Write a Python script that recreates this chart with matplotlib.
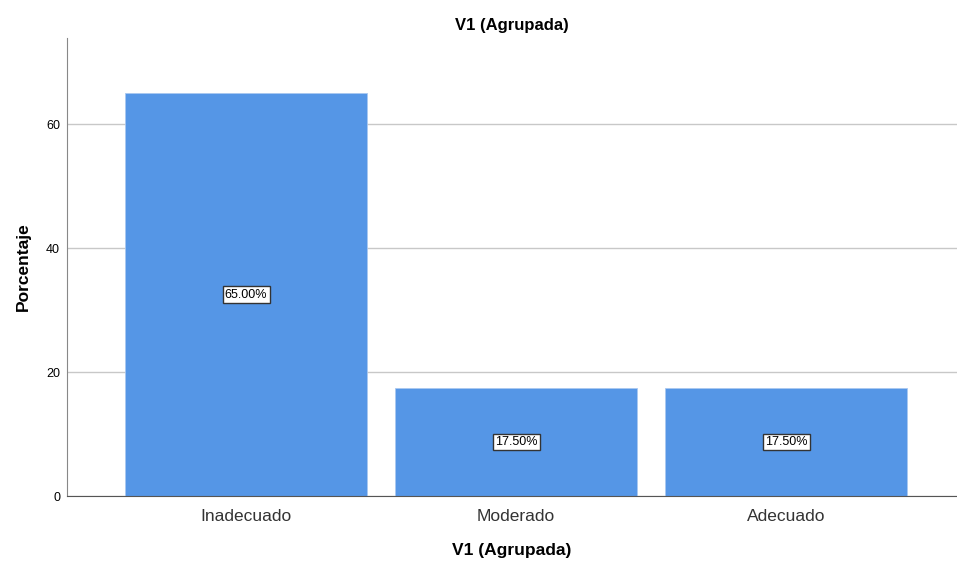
import numpy as np
import matplotlib.pyplot as plt

plt.rcParams['font.family'] = ['Liberation Sans', 'DejaVu Sans']

categorias = ["Inadecuado", "Moderado", "Adecuado"]
porcentajes = [65.0, 17.5, 17.5]

fig = plt.figure(figsize=(9.57, 5.62), dpi=100)
ax = fig.add_axes([0.07, 0.1174, 0.93, 0.815])

x = np.arange(len(categorias))
ax.bar(x, porcentajes, width=0.896, color="#5596e6", edgecolor="#a9c8f0", linewidth=0.6, zorder=2)

for xi, v in zip(x, porcentajes):
    ax.text(xi, v / 2, f"{v:.2f}%", ha="center", va="center", fontsize=9, color="black", zorder=3,
            bbox=dict(boxstyle="square,pad=0.18", facecolor="white", edgecolor="#333333", linewidth=1.0))

ax.set_xlim(-0.663, 2.633)
ax.set_ylim(0, 73.9)
ax.set_yticks([0, 20, 40, 60])
ax.set_xticks(x)
ax.set_xticklabels(categorias, fontsize=12.5, color="#333333")
ax.tick_params(axis="y", length=0, labelsize=9, pad=5)
ax.tick_params(axis="x", length=0, pad=9)

ax.grid(axis="y", color="#c8c8c8", linewidth=1.0, zorder=0)
ax.set_axisbelow(True)

for s in ["top", "right"]:
    ax.spines[s].set_visible(False)
ax.spines["left"].set_color("#888888")
ax.spines["bottom"].set_color("#555555")

ax.set_title("V1 (Agrupada)", fontsize=12, fontweight="bold", pad=6)
ax.set_xlabel("V1 (Agrupada)", fontsize=12.5, fontweight="bold", labelpad=14)
ax.set_ylabel("Porcentaje", fontsize=12.5, fontweight="bold", labelpad=11)

plt.savefig("out.png", dpi=100)
